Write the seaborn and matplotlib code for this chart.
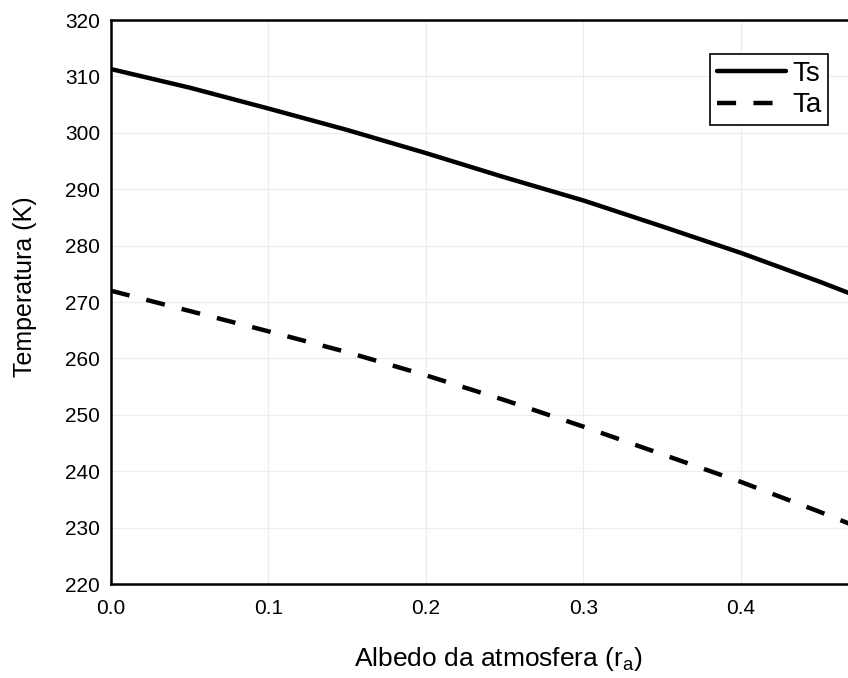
import matplotlib
matplotlib.use("Agg")
import matplotlib.pyplot as plt
import seaborn as sns
import pandas as pd

# Data
albedo = [0.0, 0.05, 0.1, 0.15, 0.2, 0.25, 0.3, 0.35, 0.4, 0.45, 0.5]
Ts = [311.3, 308.0, 304.3, 300.5, 296.4, 292.1, 288.0, 283.4, 278.7, 273.6, 268.2]
Ta = [272.0, 268.4, 264.8, 261.1, 257.0, 252.6, 247.9, 243.0, 238.1, 232.8, 227.2]
series_names = ["Ts", "Ta"]
y_ticks = [220, 230, 240, 250, 260, 270, 280, 290, 300, 310, 320]
x_ticks = [0.0, 0.1, 0.2, 0.3, 0.4]
x_tick_labels = ["0.0", "0.1", "0.2", "0.3", "0.4"]

df = pd.DataFrame({
    "albedo": albedo * 2,
    "T": Ts + Ta,
    "serie": [series_names[0]] * len(albedo) + [series_names[1]] * len(albedo),
})

sns.set_theme(style="white")
plt.rcParams["font.family"] = ["Liberation Sans", "DejaVu Sans"]
plt.rcParams["text.color"] = "black"
plt.rcParams["axes.labelcolor"] = "black"

fig = plt.figure(figsize=(8.48, 6.78), dpi=100)
ax = fig.add_axes([111 / 848, 94 / 678, 1 - 111 / 848, 564 / 678])

sns.lineplot(data=df, x="albedo", y="T", hue="serie", style="serie",
             palette={"Ts": "black", "Ta": "black"},
             dashes={"Ts": "", "Ta": (4.3, 3.9)},
             linewidth=3.2, ax=ax, legend=True, sort=True)

ax.set_xlim(0, 0.468)
ax.set_ylim(220, 320)
ax.set_xticks(x_ticks)
ax.set_xticklabels(x_tick_labels)
ax.set_yticks(y_ticks)
ax.grid(True, color="#ececec", linewidth=0.8)
ax.tick_params(axis="both", length=0, labelsize=15, colors="black")
ax.tick_params(axis="y", pad=8)
ax.tick_params(axis="x", pad=11)

for side in ["left", "bottom", "top"]:
    ax.spines[side].set_visible(True)
    ax.spines[side].set_color("black")
    ax.spines[side].set_linewidth(1.8)
ax.spines["right"].set_visible(False)

ax.set_xlabel("Albedo da atmosfera (r$_\\mathregular{a}$)", fontsize=19, color="black")
ax.set_ylabel("Temperatura (K)", fontsize=18, color="black")
ax.yaxis.set_label_coords(-0.100, 0.527)
ax.xaxis.set_label_coords(0.525, -0.108)

handles, labels = ax.get_legend_handles_labels()
leg = ax.legend(handles, labels, loc="upper left",
                bbox_to_anchor=((710 - 111) / 737, (584 - 54) / 564),
                fontsize=20, frameon=True, fancybox=False,
                edgecolor="black", framealpha=1, borderpad=0.25,
                handlelength=2.5, handletextpad=0.2, labelspacing=0.2,
                borderaxespad=0, labelcolor="black")
leg.get_frame().set_linewidth(1.2)
for h in leg.get_lines():
    h.set_linewidth(3.2)

fig.savefig("out.png", dpi=100)
